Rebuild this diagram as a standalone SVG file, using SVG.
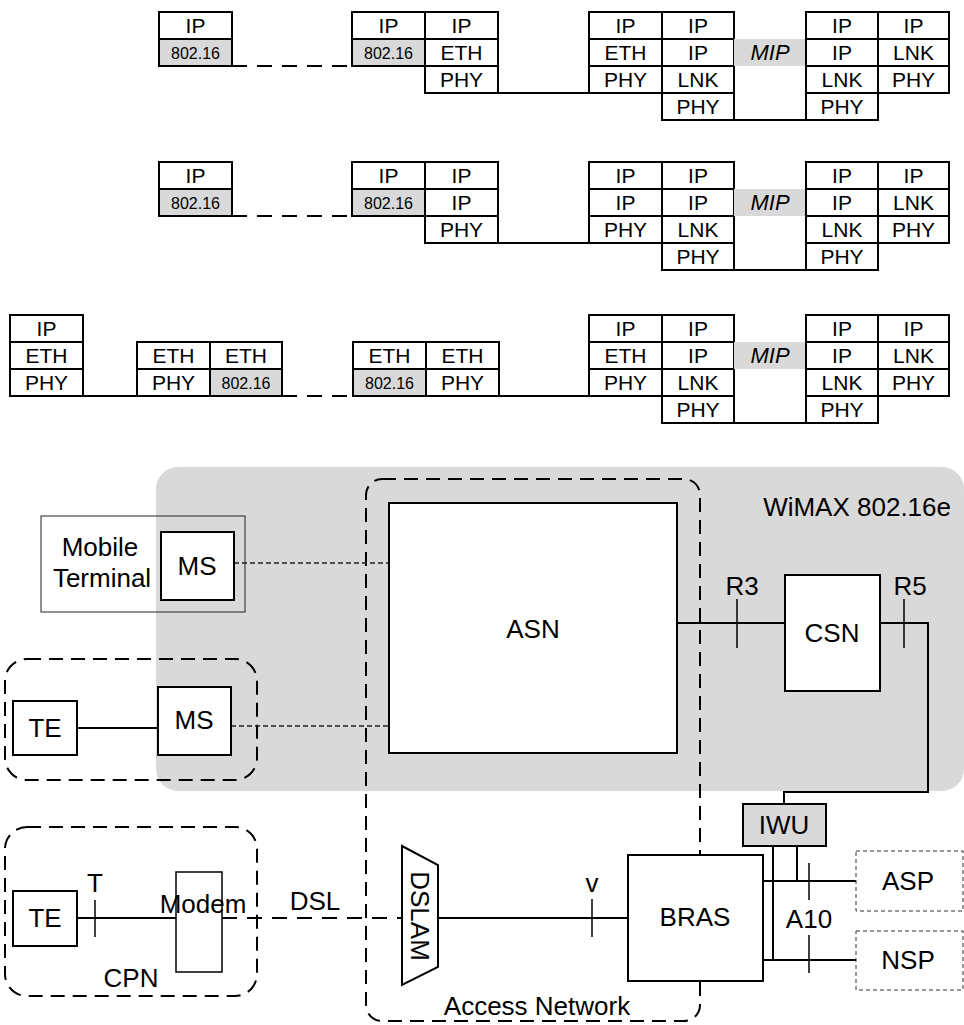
<svg xmlns="http://www.w3.org/2000/svg" width="964" height="1025" viewBox="0 0 964 1025">
<style>
.c{fill:#fff;stroke:#000;stroke-width:2}
.g{fill:#d9d9d9;stroke:#000;stroke-width:2}
.t{font-family:"Liberation Sans",Arial,sans-serif;font-size:21px;text-anchor:middle;fill:#000}
.s{font-family:"Liberation Sans",Arial,sans-serif;font-size:16px;text-anchor:middle;fill:#000}
.m{font-family:"Liberation Sans",Arial,sans-serif;font-size:22px;font-style:italic;text-anchor:middle;fill:#000}
.L{font-family:"Liberation Sans",Arial,sans-serif;font-size:26px;text-anchor:middle;fill:#000}
.ln{fill:none;stroke:#000;stroke-width:2}
.tk{fill:none;stroke:#000;stroke-width:1.5}
.dl{fill:none;stroke:#000;stroke-width:2;stroke-dasharray:15 10}
.grp{fill:none;stroke:#000;stroke-width:2;stroke-dasharray:14 8}
.thd{fill:none;stroke:#222;stroke-width:1.3;stroke-dasharray:5 3}
.box{fill:#fff;stroke:#000;stroke-width:2}
</style>

<!-- Row 1 -->
<g id="r1s1">
<rect class="c" x="159" y="12" width="73" height="27"/><text class="t" x="195.5" y="32.5">IP</text>
<rect class="g" x="159" y="39" width="73" height="27"/><text class="s" x="195.5" y="58.5">802.16</text>
</g>
<g id="r1s2">
<rect class="c" x="352" y="12" width="73" height="27"/><text class="t" x="388.5" y="32.5">IP</text>
<rect class="g" x="352" y="39" width="73" height="27"/><text class="s" x="388.5" y="58.5">802.16</text>
<rect class="c" x="425" y="12" width="73" height="27"/><text class="t" x="461.5" y="32.5">IP</text>
<rect class="c" x="425" y="39" width="73" height="27"/><text class="t" x="461.5" y="59.5">ETH</text>
<rect class="c" x="425" y="66" width="73" height="27"/><text class="t" x="461.5" y="86.5">PHY</text>
</g>
<g id="r1s3">
<rect class="c" x="589" y="12" width="73" height="27"/><text class="t" x="625.5" y="32.5">IP</text>
<rect class="c" x="589" y="39" width="73" height="27"/><text class="t" x="625.5" y="59.5">ETH</text>
<rect class="c" x="589" y="66" width="73" height="27"/><text class="t" x="625.5" y="86.5">PHY</text>
<rect class="c" x="662" y="12" width="72" height="27"/><text class="t" x="698" y="32.5">IP</text>
<rect class="c" x="662" y="39" width="72" height="27"/><text class="t" x="698" y="59.5">IP</text>
<rect class="c" x="662" y="66" width="72" height="27"/><text class="t" x="698" y="86.5">LNK</text>
<rect class="c" x="662" y="93" width="72" height="27"/><text class="t" x="698" y="113.5">PHY</text>
</g>
<g id="r1mip"><rect x="734" y="39" width="72" height="27" fill="#d9d9d9"/><text class="m" x="770" y="59.5">MIP</text></g>
<g id="r1s4">
<rect class="c" x="806" y="12" width="72" height="27"/><text class="t" x="842" y="32.5">IP</text>
<rect class="c" x="806" y="39" width="72" height="27"/><text class="t" x="842" y="59.5">IP</text>
<rect class="c" x="806" y="66" width="72" height="27"/><text class="t" x="842" y="86.5">LNK</text>
<rect class="c" x="806" y="93" width="72" height="27"/><text class="t" x="842" y="113.5">PHY</text>
<rect class="c" x="878" y="12" width="71" height="27"/><text class="t" x="913.5" y="32.5">IP</text>
<rect class="c" x="878" y="39" width="71" height="27"/><text class="t" x="913.5" y="59.5">LNK</text>
<rect class="c" x="878" y="66" width="71" height="27"/><text class="t" x="913.5" y="86.5">PHY</text>
</g>

<!-- Row 2 -->
<g id="r2s1">
<rect class="c" x="159" y="162" width="73" height="27"/><text class="t" x="195.5" y="182.5">IP</text>
<rect class="g" x="159" y="189" width="73" height="27"/><text class="s" x="195.5" y="208.5">802.16</text>
</g>
<g id="r2s2">
<rect class="c" x="352" y="162" width="73" height="27"/><text class="t" x="388.5" y="182.5">IP</text>
<rect class="g" x="352" y="189" width="73" height="27"/><text class="s" x="388.5" y="208.5">802.16</text>
<rect class="c" x="425" y="162" width="73" height="27"/><text class="t" x="461.5" y="182.5">IP</text>
<rect class="c" x="425" y="189" width="73" height="27"/><text class="t" x="461.5" y="209.5">IP</text>
<rect class="c" x="425" y="216" width="73" height="27"/><text class="t" x="461.5" y="236.5">PHY</text>
</g>
<g id="r2s3">
<rect class="c" x="589" y="162" width="73" height="27"/><text class="t" x="625.5" y="182.5">IP</text>
<rect class="c" x="589" y="189" width="73" height="27"/><text class="t" x="625.5" y="209.5">IP</text>
<rect class="c" x="589" y="216" width="73" height="27"/><text class="t" x="625.5" y="236.5">PHY</text>
<rect class="c" x="662" y="162" width="72" height="27"/><text class="t" x="698" y="182.5">IP</text>
<rect class="c" x="662" y="189" width="72" height="27"/><text class="t" x="698" y="209.5">IP</text>
<rect class="c" x="662" y="216" width="72" height="27"/><text class="t" x="698" y="236.5">LNK</text>
<rect class="c" x="662" y="243" width="72" height="27"/><text class="t" x="698" y="263.5">PHY</text>
</g>
<g id="r2mip"><rect x="734" y="189" width="72" height="27" fill="#d9d9d9"/><text class="m" x="770" y="209.5">MIP</text></g>
<g id="r2s4">
<rect class="c" x="806" y="162" width="72" height="27"/><text class="t" x="842" y="182.5">IP</text>
<rect class="c" x="806" y="189" width="72" height="27"/><text class="t" x="842" y="209.5">IP</text>
<rect class="c" x="806" y="216" width="72" height="27"/><text class="t" x="842" y="236.5">LNK</text>
<rect class="c" x="806" y="243" width="72" height="27"/><text class="t" x="842" y="263.5">PHY</text>
<rect class="c" x="878" y="162" width="71" height="27"/><text class="t" x="913.5" y="182.5">IP</text>
<rect class="c" x="878" y="189" width="71" height="27"/><text class="t" x="913.5" y="209.5">LNK</text>
<rect class="c" x="878" y="216" width="71" height="27"/><text class="t" x="913.5" y="236.5">PHY</text>
</g>

<!-- Row 3 -->
<g id="r3sA">
<rect class="c" x="10" y="315" width="73" height="27"/><text class="t" x="46.5" y="335.5">IP</text>
<rect class="c" x="10" y="342" width="73" height="27"/><text class="t" x="46.5" y="362.5">ETH</text>
<rect class="c" x="10" y="369" width="73" height="27"/><text class="t" x="46.5" y="389.5">PHY</text>
</g>
<g id="r3sB">
<rect class="c" x="137" y="342" width="73" height="27"/><text class="t" x="173.5" y="362.5">ETH</text>
<rect class="c" x="137" y="369" width="73" height="27"/><text class="t" x="173.5" y="389.5">PHY</text>
<rect class="c" x="210" y="342" width="72" height="27"/><text class="t" x="246" y="362.5">ETH</text>
<rect class="g" x="210" y="369" width="72" height="27"/><text class="s" x="246" y="388.5">802.16</text>
</g>
<g id="r3sC">
<rect class="c" x="353" y="342" width="73" height="27"/><text class="t" x="389.5" y="362.5">ETH</text>
<rect class="g" x="353" y="369" width="73" height="27"/><text class="s" x="389.5" y="388.5">802.16</text>
<rect class="c" x="426" y="342" width="73" height="27"/><text class="t" x="462.5" y="362.5">ETH</text>
<rect class="c" x="426" y="369" width="73" height="27"/><text class="t" x="462.5" y="389.5">PHY</text>
</g>
<g id="r3sD">
<rect class="c" x="589" y="315" width="73" height="27"/><text class="t" x="625.5" y="335.5">IP</text>
<rect class="c" x="589" y="342" width="73" height="27"/><text class="t" x="625.5" y="362.5">ETH</text>
<rect class="c" x="589" y="369" width="73" height="27"/><text class="t" x="625.5" y="389.5">PHY</text>
<rect class="c" x="662" y="315" width="72" height="27"/><text class="t" x="698" y="335.5">IP</text>
<rect class="c" x="662" y="342" width="72" height="27"/><text class="t" x="698" y="362.5">IP</text>
<rect class="c" x="662" y="369" width="72" height="27"/><text class="t" x="698" y="389.5">LNK</text>
<rect class="c" x="662" y="396" width="72" height="27"/><text class="t" x="698" y="416.5">PHY</text>
</g>
<g id="r3mip"><rect x="734" y="342" width="72" height="27" fill="#d9d9d9"/><text class="m" x="770" y="362.5">MIP</text></g>
<g id="r3sE">
<rect class="c" x="806" y="315" width="72" height="27"/><text class="t" x="842" y="335.5">IP</text>
<rect class="c" x="806" y="342" width="72" height="27"/><text class="t" x="842" y="362.5">IP</text>
<rect class="c" x="806" y="369" width="72" height="27"/><text class="t" x="842" y="389.5">LNK</text>
<rect class="c" x="806" y="396" width="72" height="27"/><text class="t" x="842" y="416.5">PHY</text>
<rect class="c" x="878" y="315" width="71" height="27"/><text class="t" x="913.5" y="335.5">IP</text>
<rect class="c" x="878" y="342" width="71" height="27"/><text class="t" x="913.5" y="362.5">LNK</text>
<rect class="c" x="878" y="369" width="71" height="27"/><text class="t" x="913.5" y="389.5">PHY</text>
</g>

<!-- stack connectors -->
<g id="stack-links">
<line class="dl" x1="232" y1="66" x2="352" y2="66"/>
<line class="ln" x1="498" y1="93" x2="589" y2="93"/>
<line class="ln" x1="734" y1="120" x2="806" y2="120"/>
<line class="dl" x1="232" y1="216" x2="352" y2="216"/>
<line class="ln" x1="498" y1="243" x2="589" y2="243"/>
<line class="ln" x1="734" y1="270" x2="806" y2="270"/>
<line class="ln" x1="83" y1="396" x2="137" y2="396"/>
<line class="dl" x1="282" y1="396" x2="353" y2="396"/>
<line class="ln" x1="499" y1="396" x2="589" y2="396"/>
<line class="ln" x1="734" y1="423" x2="806" y2="423"/>
</g>

<!-- Bottom network diagram -->
<g id="wimax">
<rect x="156" y="467" width="808" height="324" rx="22" fill="#d9d9d9"/>
<text class="L" x="951" y="516" style="text-anchor:end">WiMAX 802.16e</text>
</g>
<g id="access-network">
<rect class="grp" x="366" y="479" width="334" height="542" rx="16"/>
<text class="L" x="537" y="1015">Access Network</text>
</g>
<g id="group-te-ms"><rect class="grp" x="5" y="659" width="252" height="121" rx="22"/></g>
<g id="cpn">
<rect class="grp" x="5" y="827" width="252" height="169" rx="22"/>
<text class="L" x="131" y="987">CPN</text>
</g>

<g id="connectors">
<line class="thd" x1="234" y1="563" x2="389" y2="563"/>
<line class="thd" x1="231" y1="726" x2="389" y2="726"/>
<line class="ln" x1="77" y1="728" x2="158" y2="728"/>
<line class="ln" x1="677" y1="623" x2="785" y2="623"/>
<polyline class="ln" points="880,623 928,623 928,792 784,792 784,804"/>
<line class="ln" x1="77" y1="918" x2="176" y2="918"/>
<line class="dl" x1="222" y1="918" x2="402" y2="918"/>
<line class="ln" x1="438" y1="918" x2="628" y2="918"/>
<line class="ln" x1="773" y1="846" x2="773" y2="960"/>
<line class="ln" x1="797" y1="846" x2="797" y2="881"/>
<line class="ln" x1="763" y1="881" x2="856" y2="881"/>
<line class="ln" x1="763" y1="960" x2="856" y2="960"/>
<line class="tk" x1="95" y1="900" x2="95" y2="937"/>
<line class="tk" x1="592" y1="899" x2="592" y2="937"/>
<line class="tk" x1="737" y1="599" x2="737" y2="648"/>
<line class="tk" x1="904" y1="599" x2="904" y2="648"/>
<line class="tk" x1="809" y1="863" x2="809" y2="900"/>
<line class="tk" x1="809" y1="935" x2="809" y2="973"/>
<text class="L" x="95" y="892">T</text>
<text class="L" x="315" y="910">DSL</text>
<text class="L" x="592" y="892">v</text>
<text class="L" x="742" y="595">R3</text>
<text class="L" x="910" y="595">R5</text>
<text class="L" x="809" y="928">A10</text>
</g>

<g id="mobile-terminal">
<rect x="41" y="516" width="204" height="96" fill="none" stroke="#222" stroke-width="1"/>
<text class="L" x="100" y="556">Mobile</text>
<text class="L" x="102" y="587">Terminal</text>
</g>
<g id="ms1"><rect class="box" x="161" y="532" width="73" height="68"/><text class="L" x="197" y="575">MS</text></g>
<g id="te1"><rect class="box" x="13" y="701" width="64" height="54"/><text class="L" x="45" y="737">TE</text></g>
<g id="ms2"><rect class="box" x="158" y="687" width="73" height="68"/><text class="L" x="194" y="729">MS</text></g>
<g id="asn"><rect class="box" x="389" y="503" width="288" height="250"/><text class="L" x="533" y="638">ASN</text></g>
<g id="csn"><rect class="box" x="785" y="575" width="95" height="116"/><text class="L" x="832" y="642">CSN</text></g>
<g id="te2"><rect class="box" x="13" y="891" width="64" height="55"/><text class="L" x="45" y="927">TE</text></g>
<g id="modem"><rect x="176" y="872" width="46" height="100" fill="#fff" stroke="#000" stroke-width="1.5"/><text class="L" x="203" y="913">Modem</text></g>
<g id="dslam"><polygon class="box" points="402,846 438,865 438,967 402,985"/><text class="L" transform="translate(411,916) rotate(90)">DSLAM</text></g>
<g id="bras"><rect class="box" x="628" y="855" width="135" height="126"/><text class="L" x="695" y="926">BRAS</text></g>
<g id="iwu"><rect class="g" x="743" y="804" width="83" height="42"/><text class="L" x="784" y="834">IWU</text></g>
<g id="asp"><rect x="856" y="851" width="107" height="60" fill="#fff" stroke="#333" stroke-width="1" stroke-dasharray="4 3"/><text class="L" x="908" y="890">ASP</text></g>
<g id="nsp"><rect x="856" y="931" width="107" height="59" fill="#fff" stroke="#333" stroke-width="1" stroke-dasharray="4 3"/><text class="L" x="908" y="969">NSP</text></g>
</svg>
